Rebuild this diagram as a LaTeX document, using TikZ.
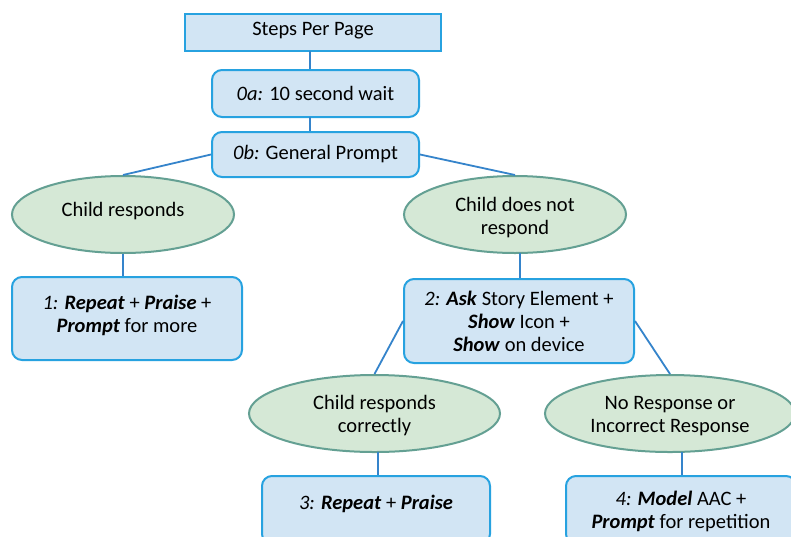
\documentclass[tikz,border=0pt]{standalone}
\usepackage{fontspec}
\setmainfont{Carlito}
\usetikzlibrary{shapes.geometric}
\definecolor{boxfill}{HTML}{D2E5F4}
\definecolor{boxline}{HTML}{27A2E0}
\definecolor{ellfill}{HTML}{D5E8D6}
\definecolor{ellline}{HTML}{64A093}
\definecolor{conn}{HTML}{3584CB}
\newcommand{\stk}[1]{\begin{tabular}{@{}c@{}}#1\end{tabular}}
\newcommand{\shiftbox}[2]{\raisebox{#1}[\height][\depth]{#2}}
\tikzset{
  boxnode/.style={draw=boxline, fill=boxfill, line width=2pt, rounded corners=10pt, align=center, inner sep=0pt},
  topbox/.style={draw=boxline, fill=boxfill, line width=2pt, align=center, inner sep=0pt},
  ellnode/.style={ellipse, draw=ellline, fill=ellfill, line width=2pt, align=center, inner sep=0pt},
  link/.style={draw=conn, line width=1.8pt},
}
\begin{document}
\begin{tikzpicture}[x=1pt,y=-1pt, font=\fontsize{20.5}{23}\selectfont]
\clip (0,0) rectangle (791,536);
\fill[white] (0,0) rectangle (791,536);
% nodes
\node[topbox, minimum width=256pt, minimum height=37pt] (sp) at (313,32.5) {\shiftbox{2pt}{Steps Per Page}};
\node[boxnode, minimum width=207pt, minimum height=47pt] (a0) at (315.5,93.5) {\textit{0a:} 10 second wait};
\node[boxnode, minimum width=207pt, minimum height=45pt] (b0) at (315.5,154.5) {\textit{0b:} General Prompt};
\node[ellnode, minimum width=222pt, minimum height=77pt] (cr) at (123,214.5) {\shiftbox{3pt}{Child responds}};
\node[ellnode, minimum width=222pt, minimum height=77pt] (cn) at (515,214.5) {\shiftbox{-4pt}{\stk{Child does not\\respond}}};
\node[boxnode, minimum width=230pt, minimum height=83pt] (b1) at (127,318.5) {\shiftbox{2.5pt}{\stk{\textit{1:} \textbf{\textit{Repeat}} + \textbf{\textit{Praise}} +\\\textbf{\textit{Prompt}} for more}}};
\node[boxnode, minimum width=230pt, minimum height=84pt] (b2) at (519,321) {\shiftbox{-3pt}{\stk{\textit{2:} \textbf{\textit{Ask}} Story Element +\\\textbf{\textit{Show}} Icon +\\\textbf{\textit{Show}} on device}}};
\node[ellnode, minimum width=251pt, minimum height=77pt] (cc) at (374.5,413.5) {\shiftbox{-3pt}{\stk{Child responds\\correctly}}};
\node[ellnode, minimum width=250pt, minimum height=77pt] (nr) at (670,413.5) {\shiftbox{-3pt}{\stk{No Response or\\Incorrect Response}}};
\node[boxnode, minimum width=228pt, minimum height=68pt] (b3) at (376,510) {\shiftbox{6pt}{\textit{3:} \textbf{\textit{Repeat}} + \textbf{\textit{Praise}}}};
\node[boxnode, minimum width=230pt, minimum height=68pt] (b4) at (681,510) {\shiftbox{-2.5pt}{\stk{\textit{4:} \textbf{\textit{Model}} AAC +\\\textbf{\textit{Prompt}} for repetition}}};
% connectors
\coordinate (c1) at (310,51);
\coordinate (c2) at (310,117);
\draw[link] (c1) -- (c1 |- a0.north);
\draw[link] (c2) -- (c2 |- b0.north);
\draw[link] (b0.west) -- (cr.north);
\draw[link] (b0.east) -- (cn.north);
\draw[link] (cr.south) -- (cr.south |- b1.north);
\coordinate (c3) at (520,253);
\draw[link] (c3) -- (c3 |- b2.north);
\draw[link] (b2.west) -- (cc.north);
\draw[link] (b2.east) -- (nr.north);
\coordinate (c4) at (378,452);
\draw[link] (c4) -- (c4 |- b3.north);
\coordinate (c5) at (682,452);
\draw[link] (c5) -- (c5 |- b4.north);
\end{tikzpicture}
\end{document}
